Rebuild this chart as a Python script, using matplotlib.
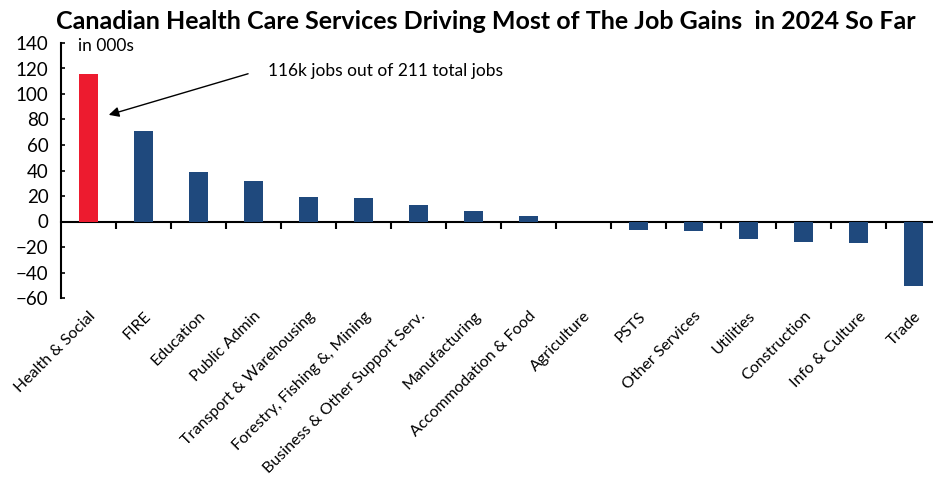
import matplotlib
matplotlib.use("Agg")
import matplotlib.pyplot as plt
import numpy as np

plt.rcParams['font.family'] = ['Lato', 'DejaVu Sans']

# data (in 000s)
sectors = ["Health & Social", "FIRE", "Education", "Public Admin",
           "Transport & Warehousing", "Forestry, Fishing &, Mining",
           "Business & Other Support Serv.", "Manufacturing",
           "Accommodation & Food", "Agriculture", "PSTS", "Other Services",
           "Utilities", "Construction", "Info & Culture", "Trade"]
job_change = [116, 71, 38.5, 32, 19, 18.5, 13, 8, 4.5, -0.5,
              -6.3, -7.3, -14, -15.7, -16.8, -50.7]
highlight = "Health & Social"

RED = "#ED1B2F"
BLUE = "#1F497D"

fig = plt.figure(figsize=(9.33, 4.78), dpi=100)
ax = fig.add_axes([61 / 933, 1 - 298 / 478, 880 / 933, 255 / 478])

x = np.arange(len(sectors))
colors = [RED if s == highlight else BLUE for s in sectors]
ax.bar(x, job_change, width=0.35, color=colors, zorder=3)

ax.set_xlim(-0.5, len(sectors) - 0.5)
ax.set_ylim(-60, 140)
ax.set_yticks(np.arange(-60, 141, 20))
ax.tick_params(axis='y', direction='in', length=3, width=1.2, labelsize=13.5, pad=9)

# category labels below the plot
ax.set_xticks(x)
ax.set_xticklabels(sectors, rotation=45, ha='right', rotation_mode='anchor', fontsize=11.5)
ax.tick_params(axis='x', length=0, pad=8)

for side in ['top', 'right', 'bottom']:
    ax.spines[side].set_visible(False)
ax.spines['left'].set_linewidth(1.5)

# zero line with boundary ticks
sec = ax.secondary_xaxis(60 / 200)
sec.set_xticks(np.arange(0.5, len(sectors) - 0.5, 1))
sec.set_xticklabels([])
sec.tick_params(direction='out', length=5, width=1.5)
sec.spines['bottom'].set_linewidth(1.5)

ax.text(-0.2, 138, "in 000s", fontsize=12.5, va='center', ha='left')

ax.annotate("", xy=(0.32, 83), xytext=(2.95, 116.5),
            arrowprops=dict(arrowstyle="-|>", color="black", lw=1, mutation_scale=15))
ax.text(3.27, 118, "116k jobs out of 211 total jobs", fontsize=12.5, va='center', ha='left')

fig.text(486 / 933, 0.955, "Canadian Health Care Services Driving Most of The Job Gains  in 2024 So Far",
         ha='center', va='center', fontsize=18, fontweight='bold')

fig.savefig("out.png", dpi=100)
